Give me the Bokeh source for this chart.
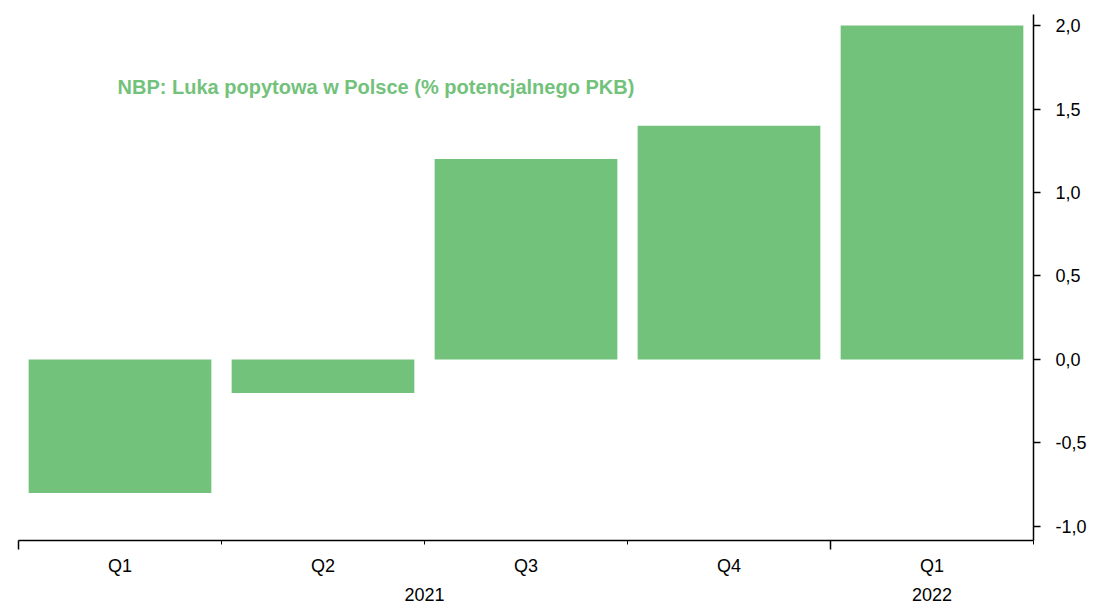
from bokeh.plotting import figure
from bokeh.models import LinearAxis, FixedTicker, Range1d, Label
from bokeh.embed import file_html
from bokeh.resources import INLINE
import numpy as np

quarters = ["Q1", "Q2", "Q3", "Q4", "Q1"]
years = ["2021", "2022"]
year_spans = [(0, 4), (4, 5)]
values = [-0.8, -0.2, 1.2, 1.4, 2.0]
y_ticks = [-1.0, -0.5, 0.0, 0.5, 1.0, 1.5, 2.0]
title_text = "NBP: Luka popytowa w Polsce (% potencjalnego PKB)"

GREEN = "#72c27b"
FONT = "Liberation Sans"
FS = "18px"

x = np.arange(len(quarters)) + 0.5

p = figure(width=1094, height=603, output_backend="svg", toolbar_location=None,
           x_range=Range1d(0, len(quarters)), y_range=Range1d(-1.084, 2.066),
           x_axis_location=None, y_axis_location=None,
           min_border_left=18, min_border_top=14, min_border_right=61, min_border_bottom=0)
p.outline_line_color = None
p.xgrid.visible = False
p.ygrid.visible = False
p.background_fill_color = "white"

p.vbar(x=x, top=values, bottom=0, width=0.9, fill_color=GREEN, line_color=None)

# right axis
ya = LinearAxis(ticker=FixedTicker(ticks=y_ticks, minor_ticks=[]),
                major_label_overrides={t: f"{t:.1f}".replace(".", ",") for t in y_ticks})
ya.axis_line_color = "black"
ya.axis_line_width = 1.5
ya.major_tick_out = 7
ya.major_tick_in = 0
ya.major_tick_line_width = 1.5
ya.major_label_standoff = 15
ya.major_label_text_font = FONT
ya.major_label_text_font_size = FS
ya.major_label_text_color = "black"
p.add_layout(ya, "right")

# bottom axis: ticks only
boundaries_major = [s for s, e in year_spans]
boundaries_minor = [b for b in range(1, len(quarters) + 1) if b not in boundaries_major]
xa = LinearAxis(ticker=FixedTicker(ticks=boundaries_major, minor_ticks=boundaries_minor))
xa.axis_line_color = "black"
xa.axis_line_width = 1.5
xa.major_tick_out = 9
xa.major_tick_in = 0
xa.major_tick_line_width = 1.5
xa.minor_tick_out = 4
xa.minor_tick_in = 0
xa.minor_tick_line_color = "black"
xa.major_label_overrides = {b: " " for b in boundaries_major}
xa.major_label_text_font_size = "1px"
xa.major_label_standoff = 0
p.add_layout(xa, "below")

# quarter labels
qa = LinearAxis(ticker=FixedTicker(ticks=list(x), minor_ticks=[]),
                major_label_overrides={float(xi): q for xi, q in zip(x, quarters)})
qa.axis_line_color = None
qa.major_tick_line_color = None
qa.minor_tick_line_color = None
qa.major_label_standoff = -4
qa.major_label_text_font = FONT
qa.major_label_text_font_size = FS
qa.major_label_text_color = "black"
p.add_layout(qa, "below")

# year labels
ycent = [(s + e) / 2 for s, e in year_spans]
ya2 = LinearAxis(ticker=FixedTicker(ticks=ycent, minor_ticks=[]),
                 major_label_overrides={float(c): yv for c, yv in zip(ycent, years)})
ya2.axis_line_color = None
ya2.major_tick_line_color = None
ya2.minor_tick_line_color = None
ya2.major_label_standoff = 3
ya2.major_label_text_font = FONT
ya2.major_label_text_font_size = FS
ya2.major_label_text_color = "black"
p.add_layout(ya2, "below")

p.add_layout(Label(x=0.488, y=1.63, text=title_text, text_font=FONT,
                   text_font_size="20px", text_font_style="bold",
                   text_color=GREEN, text_baseline="middle"))

open("out.html", "w").write(file_html(p, INLINE))
